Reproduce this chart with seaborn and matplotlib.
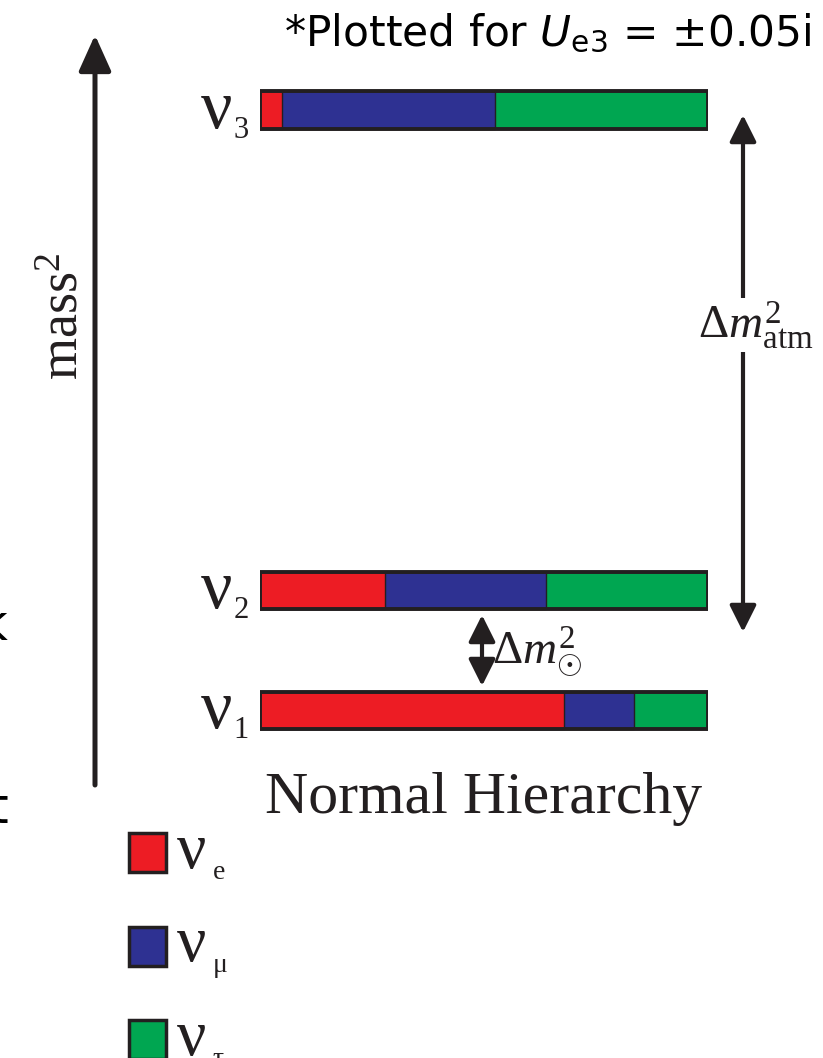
import pandas as pd
import seaborn as sns
import matplotlib.pyplot as plt
from matplotlib.patches import Rectangle
from matplotlib.transforms import blended_transform_factory

# mass eigenstates, drawn at their (arbitrary-unit) mass^2 levels
states = ['3', '2', '1']
mass_sq = [5.0, 1.0, 0.0]

# flavour content of each mass eigenstate
frac_e = [0.05, 0.28, 0.68]
frac_mu = [0.475, 0.36, 0.155]
frac_tau = [0.475, 0.36, 0.165]

flavors = ['e', 'mu', 'tau']
flavor_tex = [r'\mathrm{e}', r'\mathrm{\mu}', r'\mathrm{\tau}']
flavor_colors = ['#ed1c24', '#2e3192', '#00a651']
dark = '#231f20'

W, H = 823, 1058


def build_frame():
    records = []
    for i, st in enumerate(states):
        cum = 0.0
        for fl, fr in zip(flavors, [frac_e[i], frac_mu[i], frac_tau[i]]):
            cum += fr
            records.append({'state': st, 'mass_sq': mass_sq[i],
                            'flavor': fl, 'cum': cum})
    return pd.DataFrame(records)


df = build_frame()
totals = df[df['flavor'] == 'tau']

sns.set_style('white')
plt.rcParams['font.family'] = ['Liberation Serif', 'DejaVu Serif']
plt.rcParams['mathtext.fontset'] = 'custom'
plt.rcParams['mathtext.rm'] = 'Liberation Serif'
plt.rcParams['mathtext.it'] = 'Liberation Serif:italic'
plt.rcParams['mathtext.bf'] = 'Liberation Serif:bold'

fig = plt.figure(figsize=(W / 100, H / 100), dpi=100)

# full-figure canvas in pixel units for arrows and labels
ax = fig.add_axes([0, 0, 1, 1])
ax.set_xlim(0, W)
ax.set_ylim(H, 0)
ax.axis('off')

# bar axes: x = flavour fraction, y = mass^2 level
px_left, px_right = 259.5, 707.5
px_top, px_bot = 35, 785
px_per_unit = 120
lvl0_px = 710
bx = fig.add_axes([px_left / W, 1 - px_bot / H,
                   (px_right - px_left) / W, (px_bot - px_top) / H])
bx.patch.set_alpha(0)
bar_h = 37 / px_per_unit

sns.barplot(data=df, x='cum', y='mass_sq', hue='flavor',
            hue_order=['tau', 'mu', 'e'],
            palette=dict(zip(flavors, flavor_colors)),
            dodge=False, orient='y', native_scale=True, width=bar_h,
            errorbar=None, edgecolor=dark, linewidth=1, saturation=1,
            legend=False, ax=bx)
sns.barplot(data=totals, x='cum', y='mass_sq', orient='y', native_scale=True,
            width=bar_h, errorbar=None, fill=False, color=dark,
            linewidth=2.8, ax=bx)
bx.set_xlim(0, 1)
bx.set_ylim((lvl0_px - px_bot) / px_per_unit, (lvl0_px - px_top) / px_per_unit)
bx.axis('off')

# state labels to the left of each bar
tr = blended_transform_factory(bx.transAxes, bx.transData)
for st, m in zip(states, mass_sq):
    y0 = m - bar_h / 2
    bx.text(-0.062, y0 + 0.005, r'$\mathrm{\nu}$', transform=tr, ha='right',
            va='baseline', fontsize=50, color=dark, clip_on=False)
    bx.text(-0.058, y0 - 0.075, st, transform=tr, ha='left',
            va='baseline', fontsize=22, color=dark, clip_on=False)

# mass^2 axis arrow
ax.annotate('', xy=(95, 35), xytext=(95, 785),
            arrowprops=dict(arrowstyle='-|>,head_length=1.0,head_width=0.45',
                            mutation_scale=22, lw=3.6, color=dark,
                            shrinkA=0, shrinkB=0))
ax.text(64, 316, r'mass$^{\mathrm{2}}$', rotation=90, ha='center',
        va='center', fontsize=39, color=dark)

# splitting arrows
ax.annotate('', xy=(743, 115), xytext=(743, 632),
            arrowprops=dict(arrowstyle='<|-|>,head_length=0.9,head_width=0.45',
                            mutation_scale=18, lw=3, color=dark,
                            shrinkA=0, shrinkB=0))
ax.text(756, 325, r'$\Delta m^{2}_{\mathrm{atm}}$', ha='center', va='center',
        fontsize=34, color=dark,
        bbox=dict(facecolor='white', edgecolor='none', pad=1))
ax.annotate('', xy=(482, 615), xytext=(482, 686),
            arrowprops=dict(arrowstyle='<|-|>,head_length=0.9,head_width=0.45',
                            mutation_scale=18, lw=3, color=dark,
                            shrinkA=0, shrinkB=0))
ax.text(492, 652, r'$\Delta m^{2}_{\odot}$', ha='left', va='center',
        fontsize=34, color=dark)

ax.text(484, 813, 'Normal Hierarchy', ha='center', va='baseline',
        fontsize=43, color=dark)

ax.text(811, 46, r'*Plotted for $\mathit{U}_{\mathrm{e3}}$ = ±0.05i', ha='right',
        va='baseline', fontsize=30.5, family='DejaVu Sans',
        math_fontfamily='dejavusans', color='black')

# flavour key
for k, (tex, col) in enumerate(zip(flavor_tex, flavor_colors)):
    top = 833 + 93.5 * k
    ax.add_patch(Rectangle((129, top), 37, 39, facecolor=col,
                           edgecolor=dark, lw=2.5))
    ax.text(176, top + 35, r'$\mathrm{\nu}$', ha='left', va='baseline',
            fontsize=47, color=dark)
    ax.text(212, top + 46, '$' + tex + '$', ha='left', va='baseline',
            fontsize=20, color=dark)

# letters clipped at the slide edge
ax.text(7, 640, 'k', ha='right', va='baseline', fontsize=36,
        family='DejaVu Sans', color='black')
ax.text(8, 823, 't', ha='right', va='baseline', fontsize=36,
        family='DejaVu Sans', color='black')

fig.savefig('out.png', dpi=100)
